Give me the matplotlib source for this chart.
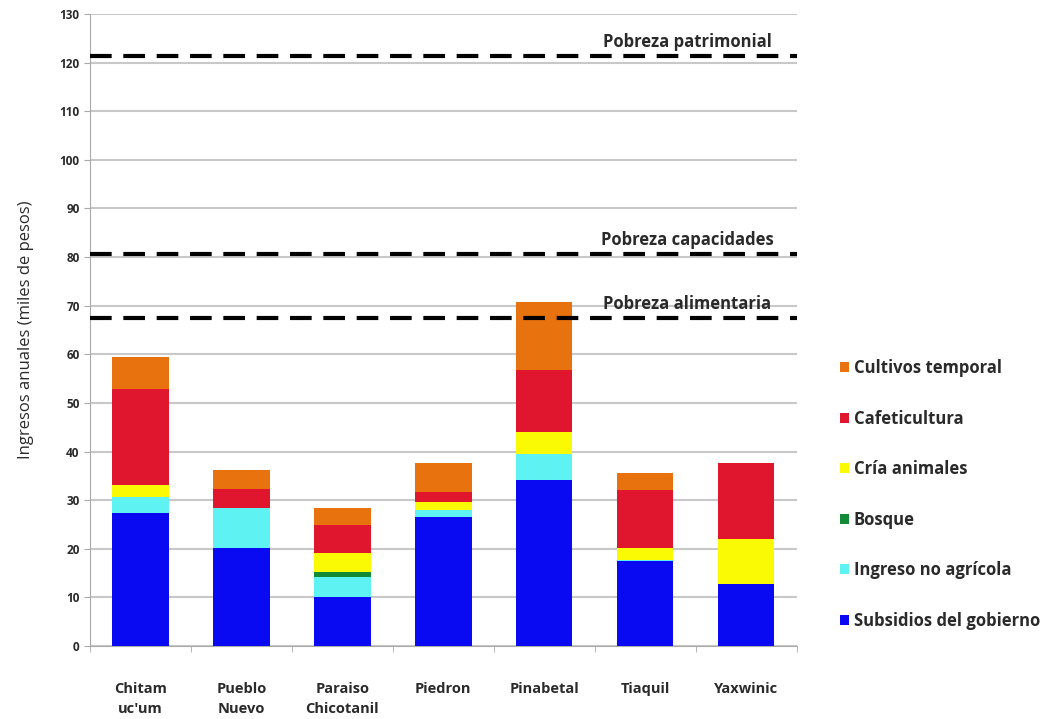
import numpy as np
import matplotlib
matplotlib.use("Agg")
import matplotlib.pyplot as plt

plt.rcParams['font.family'] = ['Open Sans', 'DejaVu Sans']

# ingresos por fuente, miles de pesos
comunidades = ["Chitam\nuc'um", "Pueblo\nNuevo", "Paraiso\nChicotanil", "Piedron",
               "Pinabetal", "Tiaquil", "Yaxwinic"]
subsidios = [27.4, 20.1, 10.1, 26.6, 34.2, 17.4, 12.8]
no_agricola = [3.3, 8.2, 4.2, 1.4, 5.4, 0.3, 0.0]
bosque = [0.0, 0.0, 1.0, 0.0, 0.0, 0.0, 0.0]
cria = [2.4, 0.0, 3.8, 1.7, 4.5, 2.5, 9.3]
cafe = [19.7, 4.1, 5.8, 2.0, 12.7, 11.8, 15.6]
cultivos = [6.6, 3.8, 3.4, 5.9, 14.0, 3.5, 0.0]

series = [
    ("Subsidios del gobierno", subsidios, "#0a0af2"),
    ("Ingreso no agrícola", no_agricola, "#5ef2f2"),
    ("Bosque", bosque, "#138a36"),
    ("Cría animales", cria, "#fafa05"),
    ("Cafeticultura", cafe, "#e0152e"),
    ("Cultivos temporal", cultivos, "#e8730e"),
]

# lineas de pobreza
pobreza_nombres = ["Pobreza patrimonial", "Pobreza capacidades", "Pobreza alimentaria"]
pobreza_valores = [121.4, 80.7, 67.5]

fig = plt.figure(figsize=(10.64, 7.19), dpi=100)
ax = fig.add_axes([0.0846, 0.1015, 0.664, 0.879])

x = np.arange(len(comunidades))
base = np.zeros(len(comunidades))
handles = []
for name, vals, col in series:
    b = ax.bar(x, vals, 0.56, bottom=base, color=col, label=name, zorder=3)
    handles.append(b)
    base += np.array(vals)

for name, val in zip(pobreza_nombres, pobreza_valores):
    ax.plot([-0.5, 6.5], [val, val], color="black", lw=3, dashes=(5.2, 2.8), zorder=4)
    ax.text(5.42, val + 1.0, name, ha="center", va="bottom", fontsize=12,
            fontweight="bold", color="#2a2a2a", zorder=5)

ax.set_xlim(-0.5, 6.5)
ax.set_ylim(0, 130)
ax.set_yticks(np.arange(0, 131, 10))
ax.yaxis.grid(True, color="#c8c8c8", lw=1.5, zorder=0)
ax.set_axisbelow(True)
ax.set_xticks(x)
ax.set_xticklabels(comunidades, fontsize=10.5, fontweight="bold", color="#2a2a2a",
                   linespacing=1.5)
ax.set_xticks(np.arange(-0.5, 7, 1), minor=True)
ax.tick_params(axis="x", which="major", length=0, pad=26)
ax.tick_params(axis="x", which="minor", length=4, color="#aaaaaa")
ax.tick_params(axis="y", length=4, color="#aaaaaa", labelsize=8.5, labelcolor="#2a2a2a")
for lbl in ax.get_yticklabels():
    lbl.set_fontweight("bold")
for s in ["top", "right"]:
    ax.spines[s].set_visible(False)
for s in ["left", "bottom"]:
    ax.spines[s].set_color("#aaaaaa")
ax.set_ylabel("Ingresos anuales (miles de pesos)", fontsize=12, color="#2a2a2a", labelpad=18)

leg = ax.legend(handles[::-1], [s[0] for s in series][::-1], loc="center left",
                bbox_to_anchor=(1.04, 0.24), frameon=False, labelspacing=1.95,
                handlelength=0.55, handleheight=0.55, handletextpad=0.3, fontsize=12)
for t in leg.get_texts():
    t.set_fontweight("bold")
    t.set_color("#2a2a2a")

fig.savefig("out.png", dpi=100)
